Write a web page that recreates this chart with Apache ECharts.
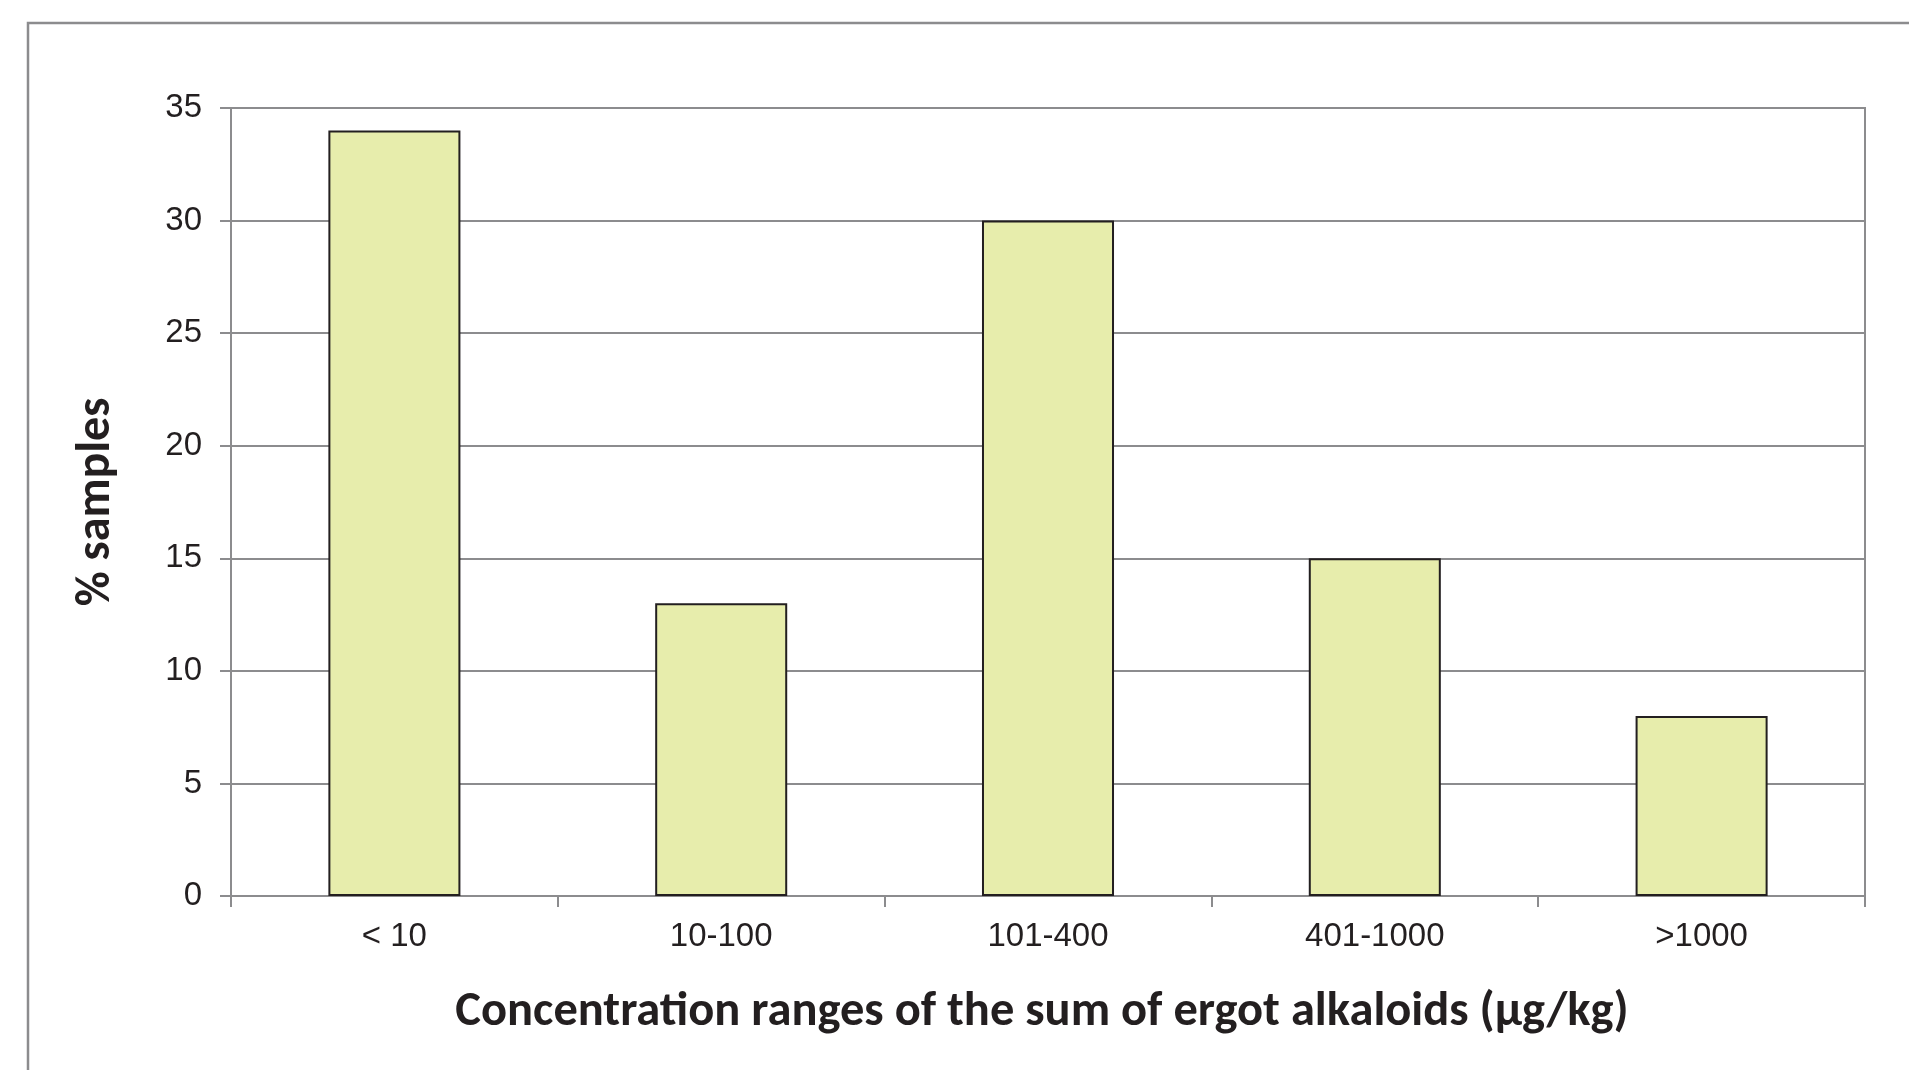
<!DOCTYPE html>
<html>
<head>
<meta charset="utf-8">
<script src="https://cdn.jsdelivr.net/npm/echarts@6/dist/echarts.min.js"></script>
<style>
html,body{margin:0;padding:0;background:#fff;}
#chart{width:1909px;height:1070px;}
</style>
</head>
<body>
<div id="chart"></div>
<script>
const categories = ['< 10', '10-100', '101-400', '401-1000', '>1000'];
const percentSamples = [34, 13, 30, 15, 8];
const yTicks = [0, 5, 10, 15, 20, 25, 30, 35];
const xTitle = 'Concentration ranges of the sum of ergot alkaloids (µg/kg)';
const yTitle = '% samples';

const gray = '#8c8c8e';
const textColor = '#231f20';
const titleFont = 'Carlito, Lato, "Open Sans", sans-serif';

const chart = echarts.init(document.getElementById('chart'));
chart.setOption({
  backgroundColor: '#ffffff',
  animation: false,
  graphic: [{
    type: 'rect',
    shape: { x: 28, y: 23, width: 2400, height: 2400 },
    style: { fill: 'none', stroke: gray, lineWidth: 2.5 },
    silent: true
  }],
  grid: {
    left: 231, right: 44, top: 108, bottom: 174,
    show: true, borderColor: gray, borderWidth: 2, backgroundColor: 'transparent'
  },
  xAxis: {
    type: 'category',
    data: categories,
    boundaryGap: true,
    axisLine: { show: true, lineStyle: { color: gray, width: 2 } },
    axisTick: { show: true, length: 11, alignWithLabel: false, lineStyle: { color: gray, width: 2 } },
    axisLabel: { color: textColor, fontFamily: 'Liberation Sans, Arial, sans-serif', fontSize: 33, margin: 24 },
    name: xTitle,
    nameLocation: 'middle',
    nameGap: 92,
    nameTextStyle: { color: textColor, fontFamily: titleFont, fontWeight: 'bold', fontSize: 48.5, padding: [0, 12, 0, 0] }
  },
  yAxis: {
    type: 'value',
    min: 0, max: 35, interval: 5,
    axisLine: { show: true, lineStyle: { color: gray, width: 2 } },
    axisTick: { show: true, length: 11, lineStyle: { color: gray, width: 2 } },
    splitLine: { show: true, lineStyle: { color: gray, width: 2 } },
    axisLabel: {
      color: textColor, fontFamily: 'Liberation Sans, Arial, sans-serif', fontSize: 33, margin: 29,
      formatter: function (v) { return yTicks.indexOf(v) >= 0 ? String(v) : ''; }
    },
    name: yTitle,
    nameLocation: 'middle',
    nameGap: 110,
    nameTextStyle: { color: textColor, fontFamily: titleFont, fontWeight: 'bold', fontSize: 48 }
  },
  series: [{
    type: 'bar',
    data: percentSamples,
    barWidth: '40.4%',
    itemStyle: { color: '#e7edac', borderColor: '#231f20', borderWidth: 2 },
    silent: true
  }]
});
</script>
</body>
</html>
